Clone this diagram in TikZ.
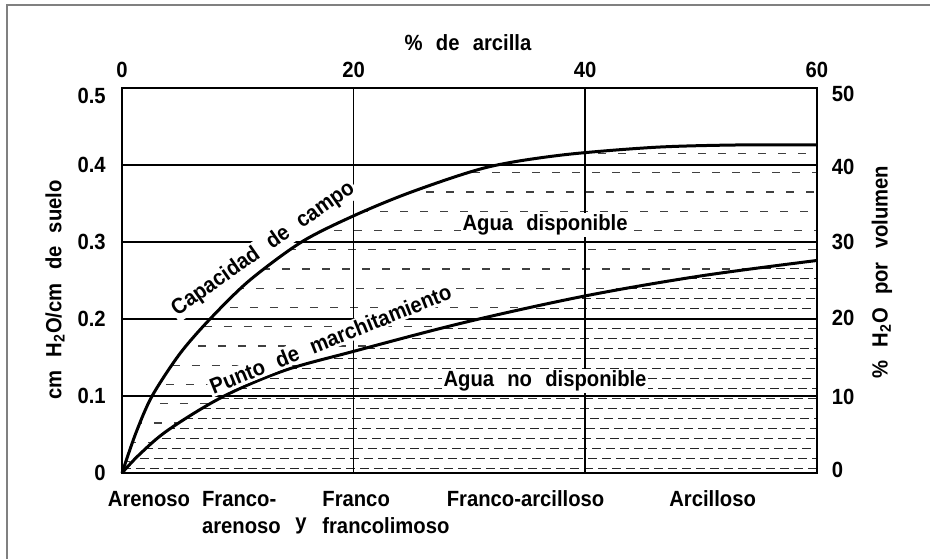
\documentclass[tikz,border=0pt]{standalone}
\usepackage{fontspec}
\setmainfont{Liberation Sans}[FakeStretch=0.92]
\newcommand{\wgap}{\hspace{0.6em}}
\newcommand{\capaplot}{plot[smooth,tension=0.5] coordinates {(0,0) (1.2,5.2) (2.6,10) (5,15.5) (7.6,20) (11,25) (15.5,30) (20,33.4) (25,36.5) (31.5,39.7) (38,41.3) (46,42.3) (53,42.6) (60,42.6)}}
\newcommand{\marchplot}{plot[smooth,tension=0.55] coordinates {(0,0) (1.5,2.4) (4,5.6) (8.7,9.9) (14,13.3) (20,15.8) (29.7,19.6) (40,23) (50,25.6) (60,27.6)}}

\begin{document}
\begin{tikzpicture}[x=5.79pt, y=3.85pt, font=\fontsize{11}{13}\selectfont\bfseries,
        grid/.style={line width=0.85pt},
        curve/.style={line width=1.5pt, line join=round},
        hatchwide/.style={line width=0.6pt, black!75, dash pattern=on 4pt off 6pt},
        hatchdense/.style={line width=0.6pt, black!85, dash pattern=on 4.5pt off 2.5pt},
        curvetext/.style={fill=white, inner sep=1pt},
        soil/.style={inner sep=0pt}]
        \useasboundingbox (-10.535,-11.17) rectangle (69.775,61.43);
        \draw[gray, line width=1pt] (-9.93,-11.17) -- (-9.93,60.78) -- (69.775,60.78);
        \begin{scope}
            \clip \capaplot -- (60,0) -- cycle;
            \foreach \k [evaluate=\k as \ph using {mod(\k*7,10)}] in {0,...,16}
                \draw[hatchwide, dash phase=\ph pt] (0,1.5+2.5*\k) -- (60,1.5+2.5*\k);
        \end{scope}
        \fill[white] \marchplot -- (60,0) -- cycle;
        \begin{scope}
            \clip \marchplot -- (60,0) -- cycle;
            \foreach \k [evaluate=\k as \ph using {mod(\k*5,7)}] in {0,...,21}
                \draw[hatchdense, dash phase=\ph pt] (0,0.6+1.3*\k) -- (60,0.6+1.3*\k);
        \end{scope}
        \foreach \v in {10,20,30,40}
            \draw[grid] (0,\v) -- (60,\v);
        \foreach \u in {20,40}
            \draw[grid] (\u,0) -- (\u,50);
        \draw[line width=1pt] (0,0) rectangle (60,50);
        \draw[curve] \capaplot;
        \draw[curve] \marchplot;
        \foreach \u in {0,20,40,60}
            \node (top\u) at (\u,52.3) {\u};
        \foreach \v/\t/\y in {0/0/0, 10/0.1/10, 20/0.2/20, 30/0.3/30, 40/0.4/40, 50/0.5/49}
            \node[anchor=east] (left\v) at (-0.8,\y) {\t};
        \foreach \v/\y in {0/0.4, 10/9.9, 20/20.1, 30/30, 40/39.7, 50/49.2}
            \node[anchor=west] (right\v) at (60.7,\y) {\v};
        \node (arcilla) at (29.88,55.84) {\%\wgap de\wgap arcilla};
        \node[rotate=90] (ycm) at (-5.79,23.77) {cm\wgap H\textsubscript{2}O/cm\wgap de\wgap suelo};
        \node[rotate=90] (yvol) at (65.63,26.1) {\%\wgap H\textsubscript{2}O\wgap por\wgap volumen};
        \node[soil, anchor=base] (arenoso) at (2.33,-4.4) {Arenoso};
        \node[soil, anchor=base west] (francoa) at (6.88,-4.4) {Franco-};
        \node[soil, anchor=base west] (francob) at (6.88,-7.8) {arenoso};
        \node[soil, anchor=base] (yy) at (15.46,-7.27) {y};
        \node[soil, anchor=base west] (francoc) at (17.27,-4.4) {Franco};
        \node[soil, anchor=base west] (francod) at (17.27,-7.8) {francolimoso};
        \node[soil, anchor=base] (francoarc) at (34.85,-4.4) {Franco-arcilloso};
        \node[soil, anchor=base] (arcilloso) at (51.0,-4.4) {Arcilloso};
        \node[curvetext, rotate=35] (capa) at (12.2,29.1) {Capacidad\wgap de\wgap campo};
        \node[curvetext, rotate=22] (punto) at (18.0,17.4) {Punto\wgap de\wgap marchitamiento};
        \node[curvetext] (disp) at (36.53,32.2) {Agua\wgap disponible};
        \node[curvetext] (nodisp) at (36.53,11.95) {Agua\wgap no\wgap disponible};
\end{tikzpicture}
\end{document}
